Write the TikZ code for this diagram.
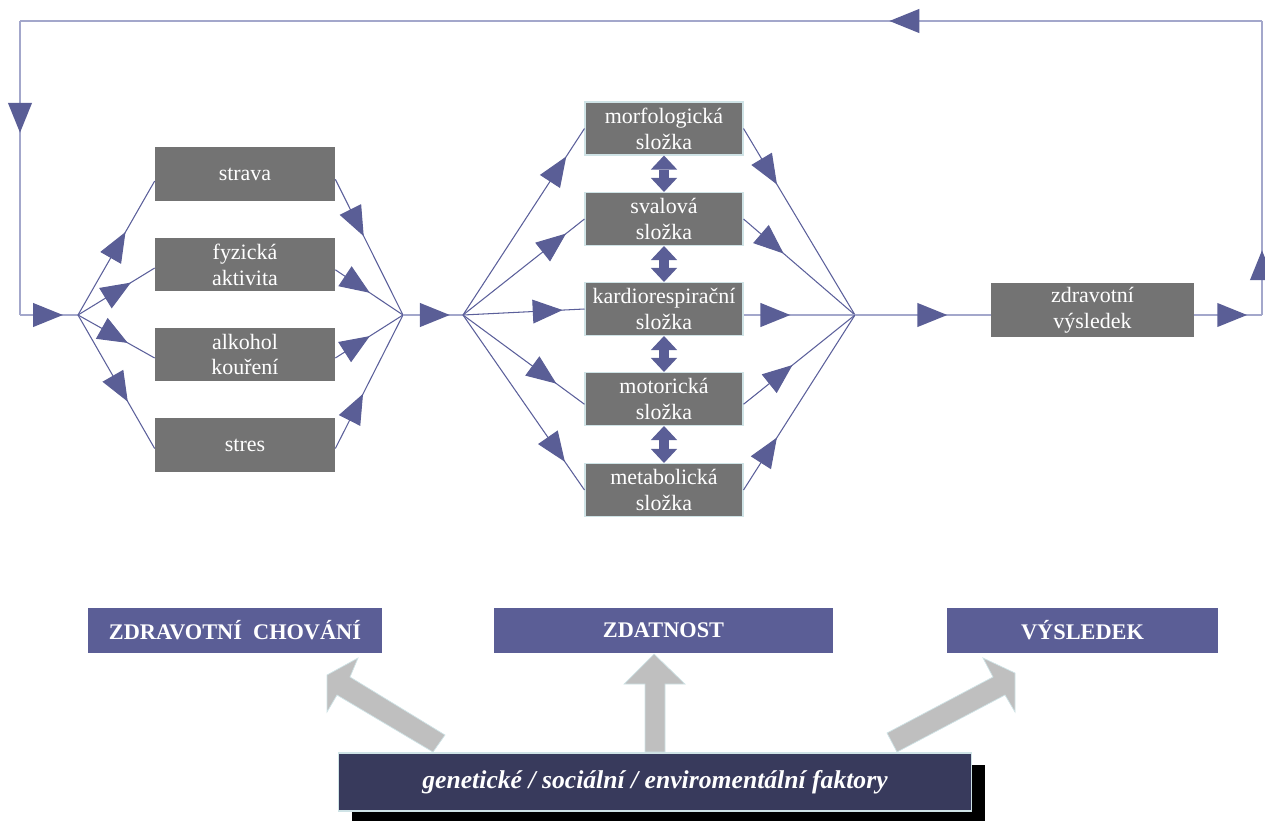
\documentclass[tikz,border=0pt]{standalone}
\usepackage{fontspec}
\setmainfont{Liberation Serif}
\usetikzlibrary{arrows.meta,decorations.markings}

\definecolor{boxgray}{HTML}{737373}
\definecolor{edgecol}{HTML}{CFE3E6}
\definecolor{lnkcol}{HTML}{5B5F9A}
\definecolor{backcol}{HTML}{A3A7CB}
\definecolor{arrcol}{HTML}{5A5E96}
\definecolor{labblue}{HTML}{5B5E96}
\definecolor{factdark}{HTML}{383A5C}
\definecolor{blockgray}{HTML}{BFBFBF}

\tikzset{
  tri/.tip={Triangle[length=17pt, width=13.5pt, color=arrcol, fill=arrcol]},
  midtip/.style={postaction={decorate},
    decoration={markings, mark=at position #1 with {\arrow{tri}}}}
}

\begin{document}
\begin{tikzpicture}[x=0.02cm, y=-0.02cm]
    \tikzstyle{box} = [fill=boxgray, text=white, align=center, inner sep=0pt, font=\rmfamily\fontsize{12.5}{14.7}\selectfont]
    \tikzstyle{behav} = [box, minimum width=3.6cm, minimum height=1.08cm]
    \tikzstyle{fitbox} = [box, draw=edgecol, line width=0.6pt, minimum width=3.16cm, minimum height=1.06cm]
    \tikzstyle{lnk} = [draw=lnkcol, line width=0.6pt]
    \tikzstyle{backlnk} = [draw=backcol, line width=1pt]
    \tikzstyle{dbl} = [draw=arrcol, line width=5.5pt, {Triangle[length=8pt, width=15pt, line width=0pt]}-{Triangle[length=8pt, width=15pt, line width=0pt]}]
    \tikzstyle{label} = [fill=labblue, text=white, inner sep=0pt, minimum height=0.9cm, font=\rmfamily\fontsize{12.7}{14.7}\selectfont\bfseries]
    \tikzstyle{block} = [fill=blockgray, draw=edgecol, line width=0.4pt]

    \useasboundingbox (0,0) rectangle (1265,821);

    % junctions and corners of the feedback loop
    \coordinate (j1) at (78,315);
    \coordinate (j2) at (403,315);
    \coordinate (j3) at (463,315);
    \coordinate (j4) at (855,315);
    \coordinate (c1) at (20,315);
    \coordinate (c2) at (20,21);
    \coordinate (c3) at (1262,21);
    \coordinate (c4) at (1262,315);

    % health behaviour
    \node[behav] (strava) at (245,174) {strava};
    \node[behav] (fyz) at (245,264.5) {fyzická\\aktivita};
    \node[behav] (alk) at (245,354.5) {alkohol\\kouření};
    \node[behav] (stres) at (245,445) {stres};

    % fitness components
    \node[fitbox] (morf) at (664,128.5) {morfologická\\složka};
    \node[fitbox] (sval) at (664,219) {svalová\\složka};
    \node[fitbox] (kardio) at (664,309) {kardiorespirační\\složka};
    \node[fitbox] (motor) at (664,399) {motorická\\složka};
    \node[fitbox] (metab) at (664,490) {metabolická\\složka};

    \node[box, minimum width=4.06cm, minimum height=1.08cm] (vysl) at (1092.5,310) {zdravotní\\výsledek};

    % feedback loop
    \path[backlnk, midtip=0.78] (vysl.east |- c4) to (c4);
    \path[backlnk, midtip=0.22] (c4) to (c3);
    \path[backlnk, midtip=0.30] (c3) to (c2);
    \path[backlnk, midtip=0.38] (c2) to (c1);
    \path[backlnk, midtip=0.74] (c1) to (j1);

    \path[lnk, midtip=0.62] (j1) to ([yshift=-4pt]strava.west);
    \path[lnk, midtip=0.69] (j1) to ([yshift=-2pt]fyz.west);
    \path[lnk, midtip=0.65] (j1) to ([yshift=-2pt]alk.west);
    \path[lnk, midtip=0.65] (j1) to ([yshift=-2pt]stres.west);
    \path[lnk, midtip=0.42] ([yshift=-3pt]strava.east) to (j2);
    \path[lnk, midtip=0.51] ([yshift=-3pt]fyz.east) to (j2);
    \path[lnk, midtip=0.51] ([yshift=-2pt]alk.east) to (j2);
    \path[lnk, midtip=0.41] ([yshift=-2pt]stres.east) to (j2);

    \path[backlnk, midtip=0.78] (j2) to (j3);

    \path[lnk, midtip=0.85] (j3) to (morf.west);
    \path[lnk, midtip=0.85] (j3) to (sval.west);
    \path[lnk, midtip=0.82] (j3) to (kardio.west);
    \path[lnk, midtip=0.77] (j3) to ([yshift=-3pt]motor.west);
    \path[lnk, midtip=0.84] (j3) to (metab.west);
    \path[lnk, midtip=0.30] (morf.east) to (j4);
    \path[lnk, midtip=0.36] (sval.east) to (j4);
    \path[backlnk, midtip=0.42] (kardio.east |- j4) to (j4);
    \path[lnk, midtip=0.44] ([yshift=-3pt]motor.east) to (j4);
    \path[lnk, midtip=0.30] (metab.east) to (j4);

    \path[backlnk, midtip=0.68] (j4) to (j4 -| vysl.west);

    \path[dbl] (morf) to (sval);
    \path[dbl] (sval) to (kardio);
    \path[dbl] (kardio) to (motor);
    \path[dbl] (motor) to (metab);

    % bottom part
    \node[label, minimum width=5.88cm] (chov) at (235,630.5) {ZDRAVOTNÍ\ \ CHOVÁNÍ};
    \node[label, minimum width=6.78cm] (zdat) at (663.5,630.5) {ZDATNOST};
    \node[label, minimum width=5.42cm] (vysled) at (1082.5,630.5) {VÝSLEDEK};

    \fill[black] (352,765) rectangle (985,821);
    \node[fill=factdark, draw=edgecol, line width=0.6pt, text=white, inner sep=0pt, minimum width=12.68cm, minimum height=1.16cm, font=\rmfamily\fontsize{14.6}{16}\selectfont\bfseries\itshape] (fakt) at (655,782) {genetické / sociální / enviromentální faktory};

    \path[block] (445,735) -- (350,677) -- (358,658) -- (327,675) -- (327,712) -- (337,695) -- (433,752) -- cycle;
    \path[block] (645,752) -- (645,684) -- (624,684) -- (654,654) -- (685,684) -- (665,684) -- (665,752) -- cycle;
    \path[block] (897,752) -- (887,733) -- (993,677) -- (983,658) -- (1015,673) -- (1015,712) -- (1005,695) -- cycle;
\end{tikzpicture}
\end{document}
